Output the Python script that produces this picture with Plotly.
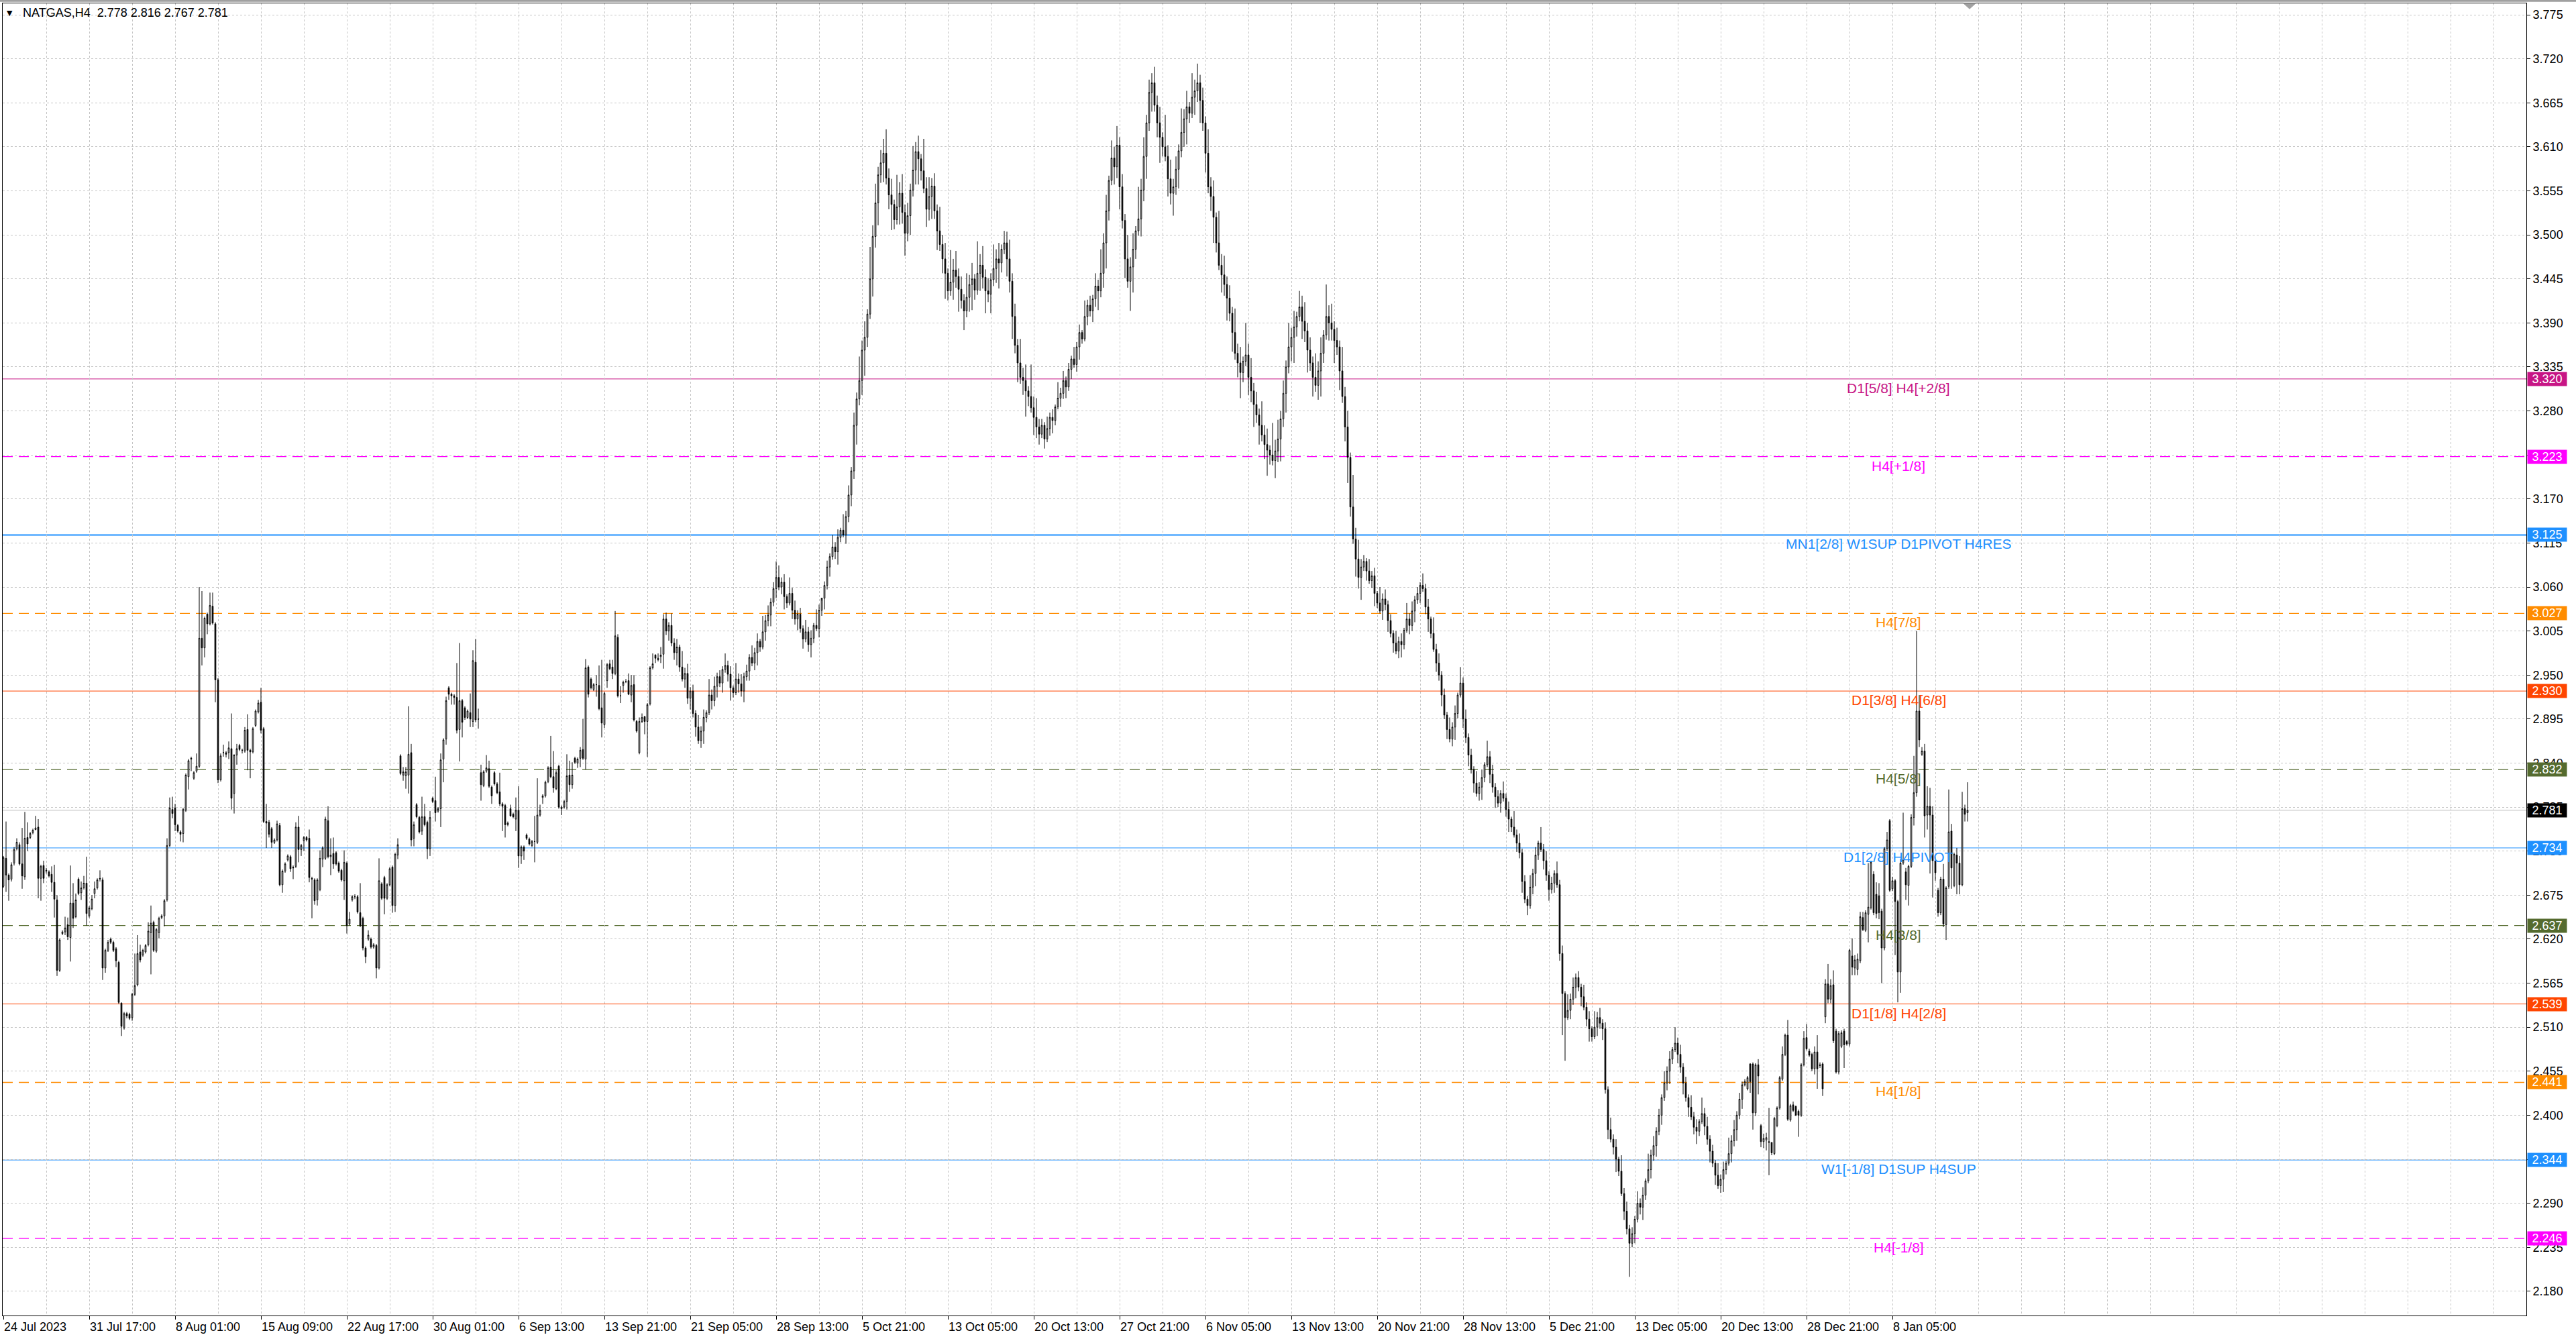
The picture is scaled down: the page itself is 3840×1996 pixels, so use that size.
import plotly.graph_objects as go

# ---------------- DATA (NATGAS, H4) ----------------
# bars 0-81
open_1 = [2.686, 2.721, 2.700, 2.695, 2.715, 2.733, 2.738, 2.714, 2.698, 2.747,
          2.747, 2.753, 2.757, 2.760, 2.696, 2.712, 2.706, 2.704, 2.701, 2.691,
          2.669, 2.581, 2.627, 2.629, 2.638, 2.622, 2.665, 2.648, 2.695, 2.678,
          2.684, 2.690, 2.649, 2.658, 2.677, 2.684, 2.695, 2.694, 2.584, 2.606,
          2.620, 2.616, 2.608, 2.591, 2.540, 2.509, 2.527, 2.526, 2.522, 2.551,
          2.563, 2.604, 2.600, 2.604, 2.613, 2.628, 2.641, 2.605, 2.628, 2.647,
          2.649, 2.669, 2.737, 2.782, 2.784, 2.762, 2.754, 2.752, 2.781, 2.823,
          2.846, 2.821, 2.830, 2.836, 2.996, 2.984, 3.026, 3.014, 3.036, 3.014,
          2.944, 2.819]
high_1 = [2.724, 2.767, 2.702, 2.716, 2.735, 2.746, 2.741, 2.759, 2.779, 2.766,
          2.754, 2.758, 2.774, 2.770, 2.713, 2.718, 2.709, 2.706, 2.711, 2.713,
          2.675, 2.621, 2.631, 2.648, 2.647, 2.712, 2.690, 2.677, 2.697, 2.692,
          2.699, 2.723, 2.661, 2.675, 2.692, 2.696, 2.706, 2.697, 2.608, 2.619,
          2.622, 2.618, 2.610, 2.593, 2.541, 2.529, 2.529, 2.528, 2.553, 2.602,
          2.625, 2.613, 2.608, 2.614, 2.641, 2.662, 2.643, 2.634, 2.648, 2.651,
          2.670, 2.746, 2.797, 2.798, 2.789, 2.764, 2.756, 2.784, 2.827, 2.845,
          2.848, 2.830, 2.852, 3.060, 3.055, 3.023, 3.028, 3.053, 3.053, 3.016,
          2.946, 2.852]
low_1 = [2.684, 2.679, 2.668, 2.692, 2.712, 2.731, 2.712, 2.683, 2.694, 2.730,
         2.745, 2.751, 2.756, 2.671, 2.668, 2.690, 2.702, 2.697, 2.679, 2.647,
         2.574, 2.579, 2.625, 2.625, 2.619, 2.592, 2.634, 2.646, 2.675, 2.669,
         2.682, 2.637, 2.647, 2.656, 2.671, 2.682, 2.692, 2.569, 2.578, 2.604,
         2.614, 2.604, 2.585, 2.539, 2.499, 2.507, 2.521, 2.519, 2.518, 2.549,
         2.561, 2.591, 2.598, 2.602, 2.611, 2.576, 2.604, 2.603, 2.621, 2.645,
         2.636, 2.667, 2.735, 2.771, 2.755, 2.753, 2.742, 2.741, 2.779, 2.807,
         2.830, 2.819, 2.828, 2.834, 2.962, 2.972, 3.001, 3.012, 3.013, 2.916,
         2.815, 2.817]
close_1 = [2.722, 2.700, 2.694, 2.713, 2.732, 2.741, 2.714, 2.699, 2.746, 2.739,
           2.752, 2.756, 2.759, 2.696, 2.711, 2.696, 2.705, 2.699, 2.691, 2.670,
           2.581, 2.619, 2.629, 2.634, 2.623, 2.665, 2.646, 2.669, 2.677, 2.684,
           2.690, 2.652, 2.659, 2.670, 2.683, 2.694, 2.696, 2.584, 2.606, 2.616,
           2.616, 2.606, 2.593, 2.541, 2.511, 2.527, 2.524, 2.521, 2.551, 2.562,
           2.602, 2.594, 2.606, 2.612, 2.630, 2.640, 2.606, 2.632, 2.646, 2.649,
           2.668, 2.737, 2.784, 2.777, 2.763, 2.755, 2.751, 2.782, 2.825, 2.843,
           2.845, 2.828, 2.836, 2.996, 2.984, 3.021, 3.014, 3.037, 3.015, 2.944,
           2.819, 2.849]

# bars 82-163
open_2 = [2.853, 2.853, 2.853, 2.858, 2.802, 2.850, 2.862, 2.856, 2.855, 2.882,
          2.856, 2.854, 2.887, 2.904, 2.916, 2.883, 2.767, 2.766, 2.758, 2.741,
          2.744, 2.762, 2.688, 2.705, 2.719, 2.723, 2.710, 2.711, 2.760, 2.732,
          2.743, 2.747, 2.746, 2.696, 2.694, 2.669, 2.682, 2.720, 2.721, 2.768,
          2.723, 2.727, 2.728, 2.715, 2.706, 2.693, 2.715, 2.639, 2.669, 2.673,
          2.673, 2.653, 2.646, 2.609, 2.620, 2.620, 2.610, 2.612, 2.584, 2.689,
          2.697, 2.671, 2.688, 2.710, 2.662, 2.725, 2.849, 2.825, 2.824, 2.825,
          2.853, 2.746, 2.788, 2.772, 2.755, 2.773, 2.766, 2.733, 2.796, 2.793,
          2.780, 2.783]
high_2 = [2.863, 2.855, 2.867, 2.902, 2.851, 2.864, 2.864, 2.858, 2.885, 2.901,
          2.858, 2.885, 2.907, 2.919, 2.934, 2.885, 2.789, 2.769, 2.760, 2.746,
          2.768, 2.765, 2.707, 2.716, 2.726, 2.725, 2.712, 2.766, 2.774, 2.739,
          2.749, 2.749, 2.757, 2.698, 2.696, 2.696, 2.731, 2.736, 2.773, 2.786,
          2.746, 2.747, 2.730, 2.717, 2.708, 2.731, 2.717, 2.654, 2.675, 2.676,
          2.675, 2.690, 2.648, 2.611, 2.631, 2.622, 2.615, 2.614, 2.721, 2.691,
          2.699, 2.690, 2.710, 2.712, 2.728, 2.746, 2.851, 2.835, 2.835, 2.911,
          2.864, 2.767, 2.790, 2.774, 2.798, 2.789, 2.768, 2.780, 2.798, 2.823,
          2.785, 2.852]
low_2 = [2.848, 2.847, 2.845, 2.782, 2.777, 2.838, 2.855, 2.852, 2.853, 2.831,
         2.821, 2.852, 2.885, 2.902, 2.877, 2.765, 2.734, 2.747, 2.734, 2.739,
         2.742, 2.686, 2.678, 2.703, 2.717, 2.704, 2.695, 2.709, 2.716, 2.724,
         2.730, 2.742, 2.691, 2.646, 2.663, 2.662, 2.680, 2.710, 2.719, 2.721,
         2.700, 2.708, 2.712, 2.703, 2.692, 2.669, 2.627, 2.637, 2.667, 2.670,
         2.652, 2.635, 2.606, 2.590, 2.618, 2.608, 2.608, 2.571, 2.582, 2.669,
         2.651, 2.669, 2.686, 2.653, 2.654, 2.720, 2.825, 2.818, 2.808, 2.802,
         2.736, 2.736, 2.771, 2.752, 2.750, 2.761, 2.720, 2.724, 2.790, 2.767,
         2.778, 2.760]
close_2 = [2.853, 2.851, 2.859, 2.796, 2.850, 2.858, 2.857, 2.856, 2.881, 2.856,
           2.854, 2.883, 2.905, 2.915, 2.881, 2.767, 2.765, 2.751, 2.741, 2.744,
           2.764, 2.688, 2.705, 2.714, 2.724, 2.708, 2.709, 2.760, 2.732, 2.737,
           2.747, 2.744, 2.697, 2.695, 2.668, 2.694, 2.721, 2.734, 2.770, 2.723,
           2.725, 2.714, 2.714, 2.705, 2.694, 2.716, 2.637, 2.645, 2.673, 2.673,
           2.654, 2.637, 2.609, 2.598, 2.625, 2.610, 2.613, 2.584, 2.693, 2.671,
           2.671, 2.688, 2.708, 2.662, 2.726, 2.738, 2.827, 2.829, 2.829, 2.851,
           2.744, 2.763, 2.773, 2.754, 2.773, 2.763, 2.733, 2.772, 2.792, 2.778,
           2.783, 2.844]

# bars 164-246
open_3 = [2.845, 2.870, 2.934, 2.926, 2.924, 2.922, 2.882, 2.918, 2.909, 2.897,
          2.903, 2.892, 2.966, 2.895, 2.828, 2.812, 2.830, 2.833, 2.810, 2.828,
          2.814, 2.804, 2.789, 2.787, 2.763, 2.783, 2.776, 2.770, 2.781, 2.724,
          2.735, 2.750, 2.745, 2.737, 2.742, 2.741, 2.775, 2.797, 2.799, 2.817,
          2.835, 2.823, 2.808, 2.836, 2.783, 2.785, 2.792, 2.825, 2.813, 2.846,
          2.840, 2.846, 2.857, 2.845, 2.960, 2.945, 2.932, 2.938, 2.937, 2.909,
          2.888, 2.943, 2.964, 2.960, 2.952, 2.997, 2.924, 2.937, 2.942, 2.943,
          2.925, 2.938, 2.892, 2.853, 2.892, 2.898, 2.892, 2.914, 2.959, 2.975,
          2.969, 2.973, 2.976]
high_3 = [2.871, 2.923, 2.936, 2.928, 2.926, 2.965, 2.990, 2.920, 2.911, 2.907,
          2.927, 2.981, 2.995, 2.908, 2.838, 2.831, 2.850, 2.843, 2.812, 2.830,
          2.816, 2.828, 2.791, 2.789, 2.767, 2.788, 2.778, 2.797, 2.811, 2.737,
          2.737, 2.752, 2.747, 2.744, 2.774, 2.821, 2.788, 2.801, 2.818, 2.836,
          2.874, 2.855, 2.831, 2.838, 2.787, 2.794, 2.851, 2.843, 2.841, 2.848,
          2.847, 2.860, 2.895, 2.970, 2.962, 2.947, 2.940, 2.950, 2.962, 2.969,
          2.929, 2.965, 2.969, 2.969, 3.030, 3.001, 2.936, 2.943, 2.945, 2.952,
          2.950, 2.950, 2.894, 2.897, 2.902, 2.899, 2.915, 2.961, 2.977, 2.976,
          2.977, 2.985, 3.026]
low_3 = [2.816, 2.863, 2.919, 2.913, 2.913, 2.877, 2.842, 2.872, 2.894, 2.895,
         2.885, 2.885, 2.891, 2.883, 2.793, 2.810, 2.828, 2.809, 2.789, 2.812,
         2.801, 2.786, 2.755, 2.747, 2.761, 2.773, 2.771, 2.755, 2.709, 2.714,
         2.719, 2.744, 2.737, 2.735, 2.716, 2.739, 2.773, 2.789, 2.797, 2.815,
         2.821, 2.803, 2.806, 2.783, 2.775, 2.783, 2.782, 2.804, 2.808, 2.839,
         2.834, 2.835, 2.844, 2.832, 2.922, 2.932, 2.930, 2.923, 2.906, 2.872,
         2.884, 2.934, 2.956, 2.945, 2.950, 2.922, 2.915, 2.928, 2.940, 2.925,
         2.916, 2.892, 2.878, 2.851, 2.890, 2.876, 2.848, 2.912, 2.957, 2.965,
         2.967, 2.965, 2.958]
close_3 = [2.869, 2.918, 2.926, 2.924, 2.922, 2.881, 2.918, 2.891, 2.897, 2.905,
           2.895, 2.968, 2.894, 2.895, 2.813, 2.829, 2.834, 2.811, 2.799, 2.814,
           2.803, 2.789, 2.786, 2.763, 2.765, 2.774, 2.773, 2.781, 2.724, 2.735,
           2.730, 2.746, 2.739, 2.742, 2.742, 2.775, 2.781, 2.799, 2.816, 2.834,
           2.823, 2.809, 2.828, 2.785, 2.785, 2.792, 2.824, 2.813, 2.825, 2.841,
           2.845, 2.856, 2.846, 2.959, 2.926, 2.934, 2.938, 2.938, 2.908, 2.890,
           2.927, 2.963, 2.958, 2.952, 2.999, 2.924, 2.924, 2.941, 2.942, 2.926,
           2.937, 2.894, 2.880, 2.892, 2.897, 2.892, 2.913, 2.959, 2.964, 2.971,
           2.971, 2.975, 3.020]

# bars 247-648
open_4 = [3.020, 3.005, 3.012, 2.990, 2.978, 2.985, 2.960, 2.945, 2.952, 2.921,
          2.930, 2.902, 2.885, 2.868, 2.880, 2.897, 2.903, 2.925, 2.918, 2.936,
          2.948, 2.940, 2.957, 2.962, 2.951, 2.934, 2.928, 2.945, 2.939, 2.930,
          2.948, 2.955, 2.972, 2.965, 2.978, 2.992, 2.985, 3.004, 3.018, 3.025,
          3.041, 3.058, 3.072, 3.060, 3.066, 3.048, 3.040, 3.052, 3.031, 3.020,
          3.026, 3.008, 2.995, 3.004, 2.988, 2.996, 3.012, 3.008, 3.031, 3.046,
          3.062, 3.085, 3.098, 3.110, 3.104, 3.122, 3.131, 3.125, 3.148, 3.175,
          3.205, 3.262, 3.295, 3.318, 3.356, 3.372, 3.401, 3.445, 3.498, 3.540,
          3.575, 3.590, 3.602, 3.571, 3.550, 3.538, 3.519, 3.535, 3.552, 3.528,
          3.502, 3.524, 3.556, 3.581, 3.604, 3.595, 3.580, 3.558, 3.532, 3.548,
          3.561, 3.530, 3.505, 3.488, 3.470, 3.452, 3.430, 3.441, 3.456, 3.448,
          3.432, 3.418, 3.405, 3.422, 3.438, 3.445, 3.431, 3.452, 3.462, 3.447,
          3.430, 3.426, 3.444, 3.458, 3.470, 3.465, 3.482, 3.490, 3.470, 3.442,
          3.398, 3.362, 3.340, 3.322, 3.318, 3.305, 3.298, 3.284, 3.272, 3.260,
          3.251, 3.262, 3.245, 3.258, 3.272, 3.268, 3.285, 3.296, 3.302, 3.318,
          3.310, 3.332, 3.345, 3.338, 3.360, 3.378, 3.370, 3.398, 3.412, 3.405,
          3.420, 3.436, 3.430, 3.452, 3.490, 3.530, 3.568, 3.596, 3.585, 3.612,
          3.560, 3.518, 3.470, 3.442, 3.460, 3.482, 3.505, 3.520, 3.556, 3.598,
          3.640, 3.678, 3.690, 3.662, 3.640, 3.622, 3.610, 3.598, 3.570, 3.552,
          3.560, 3.582, 3.605, 3.628, 3.645, 3.660, 3.652, 3.672, 3.680, 3.690,
          3.668, 3.640, 3.602, 3.560, 3.548, 3.522, 3.490, 3.462, 3.450, 3.438,
          3.421, 3.402, 3.378, 3.352, 3.340, 3.328, 3.342, 3.350, 3.322, 3.305,
          3.288, 3.275, 3.262, 3.250, 3.238, 3.231, 3.225, 3.218, 3.230, 3.245,
          3.270, 3.302, 3.335, 3.360, 3.372, 3.385, 3.398, 3.410, 3.392, 3.380,
          3.356, 3.340, 3.322, 3.312, 3.330, 3.352, 3.375, 3.398, 3.390, 3.382,
          3.368, 3.360, 3.330, 3.298, 3.260, 3.222, 3.160, 3.120, 3.095, 3.072,
          3.085, 3.092, 3.080, 3.068, 3.074, 3.052, 3.040, 3.030, 3.045, 3.038,
          3.018, 3.002, 2.990, 2.980, 2.992, 2.988, 3.006, 3.020, 3.012, 3.030,
          3.044, 3.052, 3.062, 3.058, 3.035, 3.020, 3.002, 2.982, 2.965, 2.950,
          2.925, 2.900, 2.882, 2.870, 2.885, 2.902, 2.925, 2.940, 2.895, 2.872,
          2.850, 2.832, 2.815, 2.802, 2.810, 2.822, 2.838, 2.848, 2.826, 2.810,
          2.798, 2.790, 2.802, 2.796, 2.782, 2.770, 2.760, 2.750, 2.740, 2.728,
          2.692, 2.670, 2.662, 2.685, 2.702, 2.725, 2.740, 2.732, 2.718, 2.700,
          2.682, 2.690, 2.702, 2.688, 2.602, 2.552, 2.522, 2.531, 2.545, 2.560,
          2.572, 2.560, 2.548, 2.535, 2.520, 2.508, 2.498, 2.510, 2.522, 2.515,
          2.508, 2.432, 2.382, 2.370, 2.360, 2.345, 2.330, 2.302, 2.280, 2.258,
          2.240, 2.252, 2.270, 2.290, 2.285, 2.300, 2.318, 2.332, 2.350, 2.362,
          2.380, 2.400, 2.422, 2.440, 2.455, 2.470, 2.482, 2.490, 2.476, 2.460,
          2.440, 2.422, 2.410, 2.398, 2.385, 2.380, 2.392, 2.402, 2.386, 2.370,
          2.355, 2.340, 2.325, 2.312, 2.320, 2.332, 2.340, 2.352, 2.368, 2.382, 2.400, 2.420]
high_4 = [3.028, 3.016, 3.027, 2.996, 2.995, 2.988, 2.980, 2.959, 2.964, 2.935,
          2.938, 2.906, 2.900, 2.886, 2.907, 2.906, 2.945, 2.932, 2.948, 2.953,
          2.956, 2.961, 2.977, 2.968, 2.961, 2.937, 2.965, 2.952, 2.951, 2.953,
          2.963, 2.976, 2.987, 2.984, 3.002, 2.995, 3.024, 3.025, 3.037, 3.046,
          3.066, 3.092, 3.087, 3.072, 3.076, 3.051, 3.072, 3.059, 3.043, 3.031,
          3.034, 3.012, 3.019, 3.010, 3.006, 3.015, 3.032, 3.038, 3.043, 3.067,
          3.093, 3.102, 3.125, 3.116, 3.132, 3.134, 3.151, 3.155, 3.187, 3.210,
          3.278, 3.303, 3.348, 3.368, 3.392, 3.407, 3.485, 3.512, 3.564, 3.585,
          3.606, 3.620, 3.632, 3.583, 3.570, 3.544, 3.575, 3.566, 3.576, 3.538,
          3.540, 3.564, 3.611, 3.616, 3.624, 3.601, 3.620, 3.572, 3.572, 3.571,
          3.577, 3.538, 3.535, 3.500, 3.490, 3.458, 3.481, 3.470, 3.480, 3.458,
          3.448, 3.426, 3.452, 3.450, 3.465, 3.451, 3.492, 3.476, 3.486, 3.457,
          3.446, 3.452, 3.488, 3.482, 3.490, 3.488, 3.505, 3.504, 3.494, 3.452,
          3.414, 3.370, 3.370, 3.334, 3.338, 3.311, 3.338, 3.298, 3.296, 3.270,
          3.270, 3.266, 3.273, 3.278, 3.282, 3.288, 3.316, 3.309, 3.330, 3.323,
          3.340, 3.349, 3.360, 3.366, 3.388, 3.381, 3.418, 3.419, 3.424, 3.425,
          3.452, 3.444, 3.482, 3.502, 3.550, 3.574, 3.618, 3.610, 3.636, 3.622,
          3.576, 3.526, 3.500, 3.472, 3.502, 3.511, 3.560, 3.570, 3.622, 3.650,
          3.694, 3.702, 3.710, 3.674, 3.660, 3.628, 3.650, 3.612, 3.594, 3.570,
          3.598, 3.613, 3.658, 3.657, 3.680, 3.666, 3.702, 3.694, 3.714, 3.700,
          3.684, 3.648, 3.632, 3.572, 3.568, 3.528, 3.530, 3.476, 3.474, 3.448,
          3.437, 3.410, 3.408, 3.364, 3.360, 3.348, 3.390, 3.364, 3.346, 3.315,
          3.304, 3.283, 3.292, 3.262, 3.258, 3.237, 3.265, 3.244, 3.269, 3.280,
          3.318, 3.343, 3.390, 3.384, 3.405, 3.404, 3.430, 3.424, 3.416, 3.390,
          3.372, 3.348, 3.352, 3.342, 3.372, 3.381, 3.438, 3.412, 3.414, 3.392,
          3.384, 3.368, 3.360, 3.310, 3.280, 3.228, 3.200, 3.134, 3.119, 3.095,
          3.100, 3.096, 3.095, 3.080, 3.084, 3.055, 3.060, 3.052, 3.057, 3.043,
          3.026, 3.006, 3.005, 2.998, 3.002, 3.009, 3.040, 3.027, 3.042, 3.049,
          3.060, 3.066, 3.077, 3.064, 3.045, 3.023, 3.022, 2.989, 2.977, 2.955,
          2.933, 2.904, 2.897, 2.891, 2.912, 2.928, 2.960, 2.947, 2.907, 2.877,
          2.858, 2.836, 2.830, 2.816, 2.832, 2.841, 2.868, 2.855, 2.838, 2.815,
          2.806, 2.806, 2.817, 2.802, 2.792, 2.773, 2.780, 2.757, 2.752, 2.733,
          2.700, 2.674, 2.700, 2.708, 2.735, 2.743, 2.760, 2.739, 2.730, 2.705,
          2.698, 2.706, 2.717, 2.694, 2.612, 2.555, 2.551, 2.552, 2.572, 2.577,
          2.580, 2.564, 2.563, 2.541, 2.530, 2.511, 2.530, 2.529, 2.534, 2.520,
          2.516, 2.436, 2.397, 2.376, 2.370, 2.348, 2.350, 2.309, 2.292, 2.263,
          2.260, 2.274, 2.305, 2.296, 2.310, 2.321, 2.352, 2.357, 2.374, 2.385,
          2.408, 2.426, 2.455, 2.461, 2.480, 2.485, 2.510, 2.497, 2.488, 2.465,
          2.448, 2.426, 2.425, 2.404, 2.395, 2.395, 2.422, 2.409, 2.398, 2.375,
          2.363, 2.344, 2.340, 2.326, 2.342, 2.343, 2.372, 2.375, 2.394, 2.405, 2.428, 2.442]
low_4 = [3.000, 2.993, 2.986, 2.969, 2.962, 2.954, 2.942, 2.934, 2.914, 2.907,
         2.897, 2.873, 2.864, 2.859, 2.864, 2.891, 2.900, 2.907, 2.911, 2.922,
         2.935, 2.928, 2.953, 2.942, 2.918, 2.922, 2.925, 2.928, 2.923, 2.916,
         2.943, 2.943, 2.961, 2.956, 2.962, 2.979, 2.982, 2.993, 3.011, 3.011,
         3.036, 3.046, 3.056, 3.051, 3.032, 3.034, 3.037, 3.020, 3.013, 3.006,
         3.003, 2.983, 2.991, 2.979, 2.972, 2.990, 3.005, 2.997, 3.024, 3.032,
         3.057, 3.073, 3.094, 3.095, 3.088, 3.116, 3.122, 3.114, 3.141, 3.161,
         3.195, 3.238, 3.287, 3.300, 3.324, 3.360, 3.395, 3.423, 3.484, 3.512,
         3.565, 3.566, 3.563, 3.532, 3.506, 3.507, 3.513, 3.513, 3.514, 3.474,
         3.492, 3.500, 3.548, 3.563, 3.563, 3.568, 3.552, 3.510, 3.518, 3.520,
         3.520, 3.481, 3.480, 3.452, 3.420, 3.418, 3.424, 3.419, 3.434, 3.404,
         3.408, 3.381, 3.397, 3.404, 3.406, 3.419, 3.425, 3.430, 3.433, 3.402,
         3.416, 3.402, 3.436, 3.440, 3.433, 3.453, 3.476, 3.448, 3.428, 3.370,
         3.352, 3.316, 3.314, 3.300, 3.273, 3.286, 3.278, 3.250, 3.246, 3.238,
         3.246, 3.233, 3.241, 3.249, 3.252, 3.262, 3.282, 3.285, 3.295, 3.296,
         3.305, 3.320, 3.334, 3.329, 3.344, 3.364, 3.367, 3.387, 3.398, 3.391,
         3.410, 3.406, 3.422, 3.434, 3.458, 3.518, 3.562, 3.563, 3.571, 3.532,
         3.508, 3.446, 3.434, 3.405, 3.428, 3.470, 3.499, 3.498, 3.542, 3.570,
         3.630, 3.654, 3.654, 3.622, 3.590, 3.598, 3.592, 3.548, 3.538, 3.524,
         3.550, 3.558, 3.597, 3.610, 3.613, 3.640, 3.646, 3.650, 3.666, 3.640,
         3.630, 3.578, 3.552, 3.530, 3.490, 3.478, 3.456, 3.428, 3.424, 3.393,
         3.392, 3.354, 3.344, 3.322, 3.296, 3.316, 3.336, 3.300, 3.291, 3.260,
         3.265, 3.238, 3.242, 3.220, 3.199, 3.213, 3.212, 3.196, 3.216, 3.217,
         3.260, 3.278, 3.327, 3.342, 3.340, 3.373, 3.392, 3.370, 3.366, 3.328,
         3.330, 3.298, 3.304, 3.294, 3.298, 3.340, 3.369, 3.368, 3.368, 3.340,
         3.350, 3.306, 3.290, 3.242, 3.190, 3.148, 3.114, 3.073, 3.058, 3.044,
         3.080, 3.068, 3.064, 3.059, 3.036, 3.034, 3.027, 3.019, 3.031, 3.004,
         2.997, 2.978, 2.976, 2.971, 2.972, 2.982, 3.003, 3.001, 3.005, 3.016,
         3.039, 3.040, 3.054, 3.026, 3.004, 2.996, 2.979, 2.954, 2.943, 2.911,
         2.895, 2.870, 2.866, 2.861, 2.869, 2.896, 2.922, 2.884, 2.865, 2.836,
         2.827, 2.803, 2.798, 2.793, 2.794, 2.816, 2.835, 2.815, 2.803, 2.784,
         2.785, 2.778, 2.792, 2.773, 2.754, 2.754, 2.747, 2.729, 2.721, 2.678,
         2.665, 2.650, 2.658, 2.676, 2.686, 2.719, 2.729, 2.707, 2.693, 2.668,
         2.677, 2.678, 2.684, 2.593, 2.500, 2.468, 2.519, 2.520, 2.538, 2.546,
         2.555, 2.536, 2.531, 2.511, 2.492, 2.492, 2.495, 2.499, 2.508, 2.494,
         2.427, 2.370, 2.366, 2.351, 2.329, 2.324, 2.299, 2.269, 2.251, 2.198,
         2.235, 2.240, 2.266, 2.276, 2.269, 2.294, 2.315, 2.321, 2.343, 2.348,
         2.375, 2.388, 2.418, 2.431, 2.439, 2.464, 2.479, 2.465, 2.453, 2.426,
         2.417, 2.398, 2.394, 2.376, 2.364, 2.374, 2.389, 2.375, 2.363, 2.341,
         2.335, 2.313, 2.308, 2.303, 2.304, 2.326, 2.337, 2.341, 2.361, 2.368, 2.395, 2.408]
close_4 = [3.005, 3.012, 2.990, 2.978, 2.985, 2.960, 2.945, 2.952, 2.921, 2.930,
           2.902, 2.885, 2.868, 2.880, 2.897, 2.903, 2.925, 2.918, 2.936, 2.948,
           2.940, 2.957, 2.962, 2.951, 2.934, 2.928, 2.945, 2.939, 2.930, 2.948,
           2.955, 2.972, 2.965, 2.978, 2.992, 2.985, 3.004, 3.018, 3.025, 3.041,
           3.058, 3.072, 3.060, 3.066, 3.048, 3.040, 3.052, 3.031, 3.020, 3.026,
           3.008, 2.995, 3.004, 2.988, 2.996, 3.012, 3.008, 3.031, 3.046, 3.062,
           3.085, 3.098, 3.110, 3.104, 3.122, 3.131, 3.125, 3.148, 3.175, 3.205,
           3.262, 3.295, 3.318, 3.356, 3.372, 3.401, 3.445, 3.498, 3.540, 3.575,
           3.590, 3.602, 3.571, 3.550, 3.538, 3.519, 3.535, 3.552, 3.528, 3.502,
           3.524, 3.556, 3.581, 3.604, 3.595, 3.580, 3.558, 3.532, 3.548, 3.561,
           3.530, 3.505, 3.488, 3.470, 3.452, 3.430, 3.441, 3.456, 3.448, 3.432,
           3.418, 3.405, 3.422, 3.438, 3.445, 3.431, 3.452, 3.462, 3.447, 3.430,
           3.426, 3.444, 3.458, 3.470, 3.465, 3.482, 3.490, 3.470, 3.442, 3.398,
           3.362, 3.340, 3.322, 3.318, 3.305, 3.298, 3.284, 3.272, 3.260, 3.251,
           3.262, 3.245, 3.258, 3.272, 3.268, 3.285, 3.296, 3.302, 3.318, 3.310,
           3.332, 3.345, 3.338, 3.360, 3.378, 3.370, 3.398, 3.412, 3.405, 3.420,
           3.436, 3.430, 3.452, 3.490, 3.530, 3.568, 3.596, 3.585, 3.612, 3.560,
           3.518, 3.470, 3.442, 3.460, 3.482, 3.505, 3.520, 3.556, 3.598, 3.640,
           3.678, 3.690, 3.662, 3.640, 3.622, 3.610, 3.598, 3.570, 3.552, 3.560,
           3.582, 3.605, 3.628, 3.645, 3.660, 3.652, 3.672, 3.680, 3.690, 3.668,
           3.640, 3.602, 3.560, 3.548, 3.522, 3.490, 3.462, 3.450, 3.438, 3.421,
           3.402, 3.378, 3.352, 3.340, 3.328, 3.342, 3.350, 3.322, 3.305, 3.288,
           3.275, 3.262, 3.250, 3.238, 3.231, 3.225, 3.218, 3.230, 3.245, 3.270,
           3.302, 3.335, 3.360, 3.372, 3.385, 3.398, 3.410, 3.392, 3.380, 3.356,
           3.340, 3.322, 3.312, 3.330, 3.352, 3.375, 3.398, 3.390, 3.382, 3.368,
           3.360, 3.330, 3.298, 3.260, 3.222, 3.160, 3.120, 3.095, 3.072, 3.085,
           3.092, 3.080, 3.068, 3.074, 3.052, 3.040, 3.030, 3.045, 3.038, 3.018,
           3.002, 2.990, 2.980, 2.992, 2.988, 3.006, 3.020, 3.012, 3.030, 3.044,
           3.052, 3.062, 3.058, 3.035, 3.020, 3.002, 2.982, 2.965, 2.950, 2.925,
           2.900, 2.882, 2.870, 2.885, 2.902, 2.925, 2.940, 2.895, 2.872, 2.850,
           2.832, 2.815, 2.802, 2.810, 2.822, 2.838, 2.848, 2.826, 2.810, 2.798,
           2.790, 2.802, 2.796, 2.782, 2.770, 2.760, 2.750, 2.740, 2.728, 2.692,
           2.670, 2.662, 2.685, 2.702, 2.725, 2.740, 2.732, 2.718, 2.700, 2.682,
           2.690, 2.702, 2.688, 2.602, 2.552, 2.522, 2.531, 2.545, 2.560, 2.572,
           2.560, 2.548, 2.535, 2.520, 2.508, 2.498, 2.510, 2.522, 2.515, 2.508,
           2.432, 2.382, 2.370, 2.360, 2.345, 2.330, 2.302, 2.280, 2.258, 2.240,
           2.252, 2.270, 2.290, 2.285, 2.300, 2.318, 2.332, 2.350, 2.362, 2.380,
           2.400, 2.422, 2.440, 2.455, 2.470, 2.482, 2.490, 2.476, 2.460, 2.440,
           2.422, 2.410, 2.398, 2.385, 2.380, 2.392, 2.402, 2.386, 2.370, 2.355,
           2.340, 2.325, 2.312, 2.320, 2.332, 2.340, 2.352, 2.368, 2.382, 2.400, 2.420, 2.438]

# bars 649-732
open_5 = [2.438, 2.433, 2.464, 2.464, 2.403, 2.463, 2.387, 2.367, 2.369, 2.367,
          2.366, 2.352, 2.387, 2.409, 2.445, 2.476, 2.500, 2.394, 2.413, 2.411,
          2.405, 2.400, 2.463, 2.497, 2.480, 2.476, 2.458, 2.479, 2.463, 2.464,
          2.523, 2.564, 2.545, 2.563, 2.505, 2.454, 2.486, 2.505, 2.492, 2.489,
          2.599, 2.584, 2.582, 2.593, 2.647, 2.631, 2.651, 2.659, 2.701, 2.676,
          2.674, 2.655, 2.609, 2.733, 2.768, 2.683, 2.693, 2.667, 2.579, 2.715,
          2.704, 2.687, 2.711, 2.772, 2.803, 2.905, 2.851, 2.855, 2.775, 2.786,
          2.775, 2.718, 2.681, 2.653, 2.695, 2.638, 2.686, 2.755, 2.687, 2.725,
          2.715, 2.688, 2.783, 2.778]
high_5 = [2.445, 2.449, 2.465, 2.466, 2.465, 2.470, 2.389, 2.377, 2.378, 2.409,
          2.366, 2.398, 2.411, 2.449, 2.486, 2.502, 2.519, 2.414, 2.417, 2.412,
          2.407, 2.465, 2.505, 2.514, 2.483, 2.478, 2.486, 2.500, 2.466, 2.466,
          2.570, 2.589, 2.570, 2.581, 2.508, 2.505, 2.506, 2.508, 2.494, 2.608,
          2.621, 2.600, 2.602, 2.654, 2.654, 2.656, 2.715, 2.718, 2.705, 2.691,
          2.690, 2.658, 2.735, 2.754, 2.770, 2.698, 2.695, 2.669, 2.720, 2.778,
          2.709, 2.713, 2.776, 2.849, 3.005, 2.925, 2.860, 2.864, 2.811, 2.809,
          2.786, 2.720, 2.684, 2.698, 2.714, 2.686, 2.807, 2.764, 2.728, 2.734,
          2.724, 2.804, 2.788, 2.816]
low_5 = [2.436, 2.431, 2.428, 2.382, 2.399, 2.426, 2.360, 2.359, 2.356, 2.325,
         2.350, 2.350, 2.385, 2.407, 2.443, 2.474, 2.393, 2.392, 2.404, 2.399,
         2.373, 2.398, 2.461, 2.481, 2.473, 2.455, 2.451, 2.433, 2.459, 2.424,
         2.515, 2.540, 2.540, 2.490, 2.452, 2.451, 2.484, 2.459, 2.487, 2.486,
         2.575, 2.575, 2.575, 2.590, 2.630, 2.629, 2.616, 2.657, 2.650, 2.646,
         2.645, 2.565, 2.606, 2.730, 2.679, 2.680, 2.600, 2.541, 2.553, 2.713,
         2.669, 2.662, 2.709, 2.762, 2.798, 2.860, 2.849, 2.747, 2.757, 2.702,
         2.672, 2.693, 2.648, 2.650, 2.635, 2.619, 2.683, 2.683, 2.685, 2.676,
         2.676, 2.686, 2.767, 2.767]
close_5 = [2.442, 2.447, 2.442, 2.403, 2.463, 2.449, 2.367, 2.371, 2.372, 2.366,
           2.353, 2.396, 2.409, 2.447, 2.476, 2.500, 2.395, 2.412, 2.406, 2.400,
           2.400, 2.463, 2.496, 2.483, 2.475, 2.458, 2.479, 2.458, 2.462, 2.433,
           2.564, 2.545, 2.562, 2.493, 2.454, 2.502, 2.503, 2.488, 2.489, 2.606,
           2.585, 2.594, 2.595, 2.648, 2.632, 2.653, 2.660, 2.716, 2.653, 2.652,
           2.653, 2.609, 2.733, 2.744, 2.681, 2.693, 2.667, 2.579, 2.715, 2.719,
           2.688, 2.711, 2.772, 2.803, 2.905, 2.869, 2.855, 2.774, 2.786, 2.775,
           2.718, 2.703, 2.653, 2.695, 2.639, 2.684, 2.754, 2.709, 2.726, 2.715,
           2.688, 2.783, 2.776, 2.781]

opens = open_1 + open_2 + open_3 + open_4 + open_5
highs = high_1 + high_2 + high_3 + high_4 + high_5
lows = low_1 + low_2 + low_3 + low_4 + low_5
closes = close_1 + close_2 + close_3 + close_4 + close_5

x_tick_labels = ["24 Jul 2023", "31 Jul 17:00", "8 Aug 01:00", "15 Aug 09:00",
                 "22 Aug 17:00", "30 Aug 01:00", "6 Sep 13:00", "13 Sep 21:00",
                 "21 Sep 05:00", "28 Sep 13:00", "5 Oct 21:00", "13 Oct 05:00",
                 "20 Oct 13:00", "27 Oct 21:00", "6 Nov 05:00", "13 Nov 13:00",
                 "20 Nov 21:00", "28 Nov 13:00", "5 Dec 21:00", "13 Dec 05:00",
                 "20 Dec 13:00", "28 Dec 21:00", "8 Jan 05:00"]

y_tick_values = [2.180, 2.235, 2.290, 2.345, 2.400, 2.455, 2.510, 2.565, 2.620, 2.675,
                 2.730, 2.785, 2.840, 2.895, 2.950, 3.005, 3.060, 3.115, 3.170, 3.225,
                 3.280, 3.335, 3.390, 3.445, 3.500, 3.555, 3.610, 3.665, 3.720, 3.775]

level_prices = [3.320, 3.223, 3.125, 3.027, 2.930, 2.832, 2.734, 2.637, 2.539, 2.441, 2.344, 2.246]
level_labels = ["D1[5/8] H4[+2/8]", "H4[+1/8]", "MN1[2/8] W1SUP D1PIVOT H4RES", "H4[7/8]",
                "D1[3/8] H4[6/8]", "H4[5/8]", "D1[2/8] H4PIVOT", "H4[3/8]",
                "D1[1/8] H4[2/8]", "H4[1/8]", "W1[-1/8] D1SUP H4SUP", "H4[-1/8]"]
level_colors = ["#C71585", "#FF00FF", "#1E90FF", "#FF8C00", "#FF4500", "#556B2F",
                "#1E90FF", "#556B2F", "#FF4500", "#FF8C00", "#1E90FF", "#FF00FF"]
level_dashes = ["solid", "15px,9px", "solid", "15px,9px", "solid", "15px,9px",
                "solid", "15px,9px", "solid", "15px,9px", "solid", "15px,9px"]
level_widths = [1, 1.3, 2, 1.3, 1, 1.3, 1, 1.3, 1, 1.3, 1, 1.3]

current_price = 2.781
header_text = "NATGAS,H4\u00a0\u00a02.778 2.816 2.767 2.781"

# ---------------- FIGURE ----------------
FONT = "Liberation Sans, Arial, sans-serif"
n = len(closes)
bars = list(range(n))
label_x = 706.25  # bar position where the level captions are centred
x_major = [32 * k for k in range(len(x_tick_labels))]
x_minor = [v for v in range(16, 941, 16) if v not in x_major]

fig = go.Figure()
fig.add_trace(go.Candlestick(
    x=bars, open=opens, high=highs, low=lows, close=closes,
    increasing=dict(line=dict(color="black", width=1), fillcolor="white"),
    decreasing=dict(line=dict(color="black", width=1), fillcolor="black"),
    whiskerwidth=0, showlegend=False, hoverinfo="skip",
))

shapes = []
for p, c, d, w in zip(level_prices, level_colors, level_dashes, level_widths):
    shapes.append(dict(type="line", xref="paper", x0=0, x1=1, yref="y", y0=p, y1=p,
                       line=dict(color=c, width=w, dash=d), layer="between"))
shapes.append(dict(type="line", xref="paper", x0=0, x1=1, yref="y", y0=current_price,
                   y1=current_price, line=dict(color="#C0C0C0", width=1), layer="between"))
# window border at the top and the chart-shift marker
shapes.append(dict(type="line", xref="paper", x0=-0.01, x1=1.03, yref="paper",
                   y0=1.0019, y1=1.0019, line=dict(color="#A0A0A0", width=3)))
shapes.append(dict(type="path", xref="x", yref="paper",
                   path="M 730.5 1.0 L 735.0 1.0 L 732.75 0.9958 Z",
                   fillcolor="#A0A0A0", line=dict(color="#A0A0A0", width=1)))

annotations = []
for p, t, c in zip(level_prices, level_labels, level_colors):
    annotations.append(dict(x=label_x, y=p, xref="x", yref="y", text=t, showarrow=False,
                            xanchor="center", yanchor="top", yshift=0,
                            font=dict(family=FONT, size=21, color=c)))
    annotations.append(dict(x=1, y=p, xref="paper", yref="y", text=f"{p:.3f}",
                            showarrow=False, xanchor="left", yanchor="middle", xshift=1,
                            width=58, height=20, bgcolor=c, borderpad=0,
                            font=dict(family=FONT, size=18, color="white")))
annotations.append(dict(x=1, y=current_price, xref="paper", yref="y",
                        text=f"{current_price:.3f}", showarrow=False, xanchor="left",
                        yanchor="middle", xshift=1, width=58, height=20, bgcolor="black",
                        borderpad=0, font=dict(family=FONT, size=18, color="white")))
annotations.append(dict(x=0, y=1, xref="paper", yref="paper", text="\u25BC", showarrow=False,
                        xanchor="center", yanchor="middle", xshift=10, yshift=-14,
                        font=dict(family="DejaVu Sans", size=11, color="black")))
annotations.append(dict(x=0, y=1, xref="paper", yref="paper", text=header_text,
                        showarrow=False, xanchor="left", yanchor="middle", xshift=28,
                        yshift=-14, font=dict(family=FONT, size=18, color="black")))

grid = dict(showgrid=True, gridcolor="#C4C4C4", gridwidth=1, griddash="3px,3px")

fig.update_layout(
    width=3840, height=1996,
    margin=dict(l=4, r=74, t=5, b=35),
    paper_bgcolor="white", plot_bgcolor="white",
    boxgap=0.4, hovermode=False,
    shapes=shapes, annotations=annotations,
    xaxis=dict(range=[-0.25, 940.25], tickmode="array", tickvals=x_major,
               ticktext=x_tick_labels, ticks="outside", ticklen=5, tickcolor="black",
               ticklabelposition="outside right",
               tickfont=dict(family=FONT, size=18, color="black"),
               showline=True, linecolor="black", linewidth=1, mirror=True,
               zeroline=False, rangeslider=dict(visible=False),
               minor=dict(tickmode="array", tickvals=x_minor, ticks="", **grid),
               **grid),
    yaxis=dict(range=[2.1497, 3.7893], side="right", tickmode="array",
               tickvals=y_tick_values, tickformat=".3f", ticks="outside", ticklen=5,
               tickcolor="black", tickfont=dict(family=FONT, size=18, color="black"),
               showline=True, linecolor="black", linewidth=1, mirror=True,
               zeroline=False, **grid),
)

fig.write_html("out.html", config={"displayModeBar": False},
               post_script="document.body.style.margin='0px';")
